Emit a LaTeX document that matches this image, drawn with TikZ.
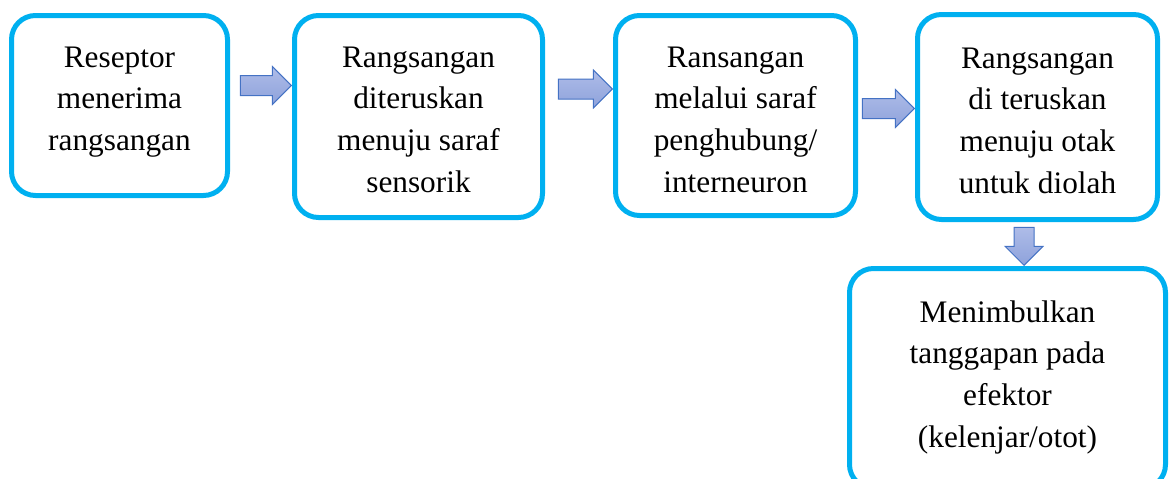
\documentclass[tikz,border=0pt]{standalone}
\usepackage{fontspec}
\setmainfont{Liberation Serif}
\usetikzlibrary{shapes.arrows,calc}
\definecolor{boxblue}{HTML}{00B0F0}
\definecolor{arrowedge}{HTML}{4472C4}
\definecolor{arrowtop}{HTML}{AEBCE8}
\definecolor{arrowbot}{HTML}{8EA2DB}
% fixed height for the first line so every label starts at the same baseline
\newcommand\firstline{\rule{0pt}{24pt}}
\begin{document}
\begin{tikzpicture}[x=1pt,y=-1pt,
  stage/.style={draw=boxblue, line width=5pt, rounded corners=24pt, fill=white, inner sep=0pt},
  stagetext/.style={anchor=north, inner sep=0pt, align=center, font=\rmfamily\fontsize{31.3}{41.7}\selectfont},
  flow/.style={single arrow, draw=arrowedge, line width=1pt, top color=arrowtop, bottom color=arrowbot,
    single arrow head extend=9pt, text height=19pt, text depth=0pt, text width=0pt,
    inner sep=0pt, anchor=tip, single arrow tip angle=90}
]
\useasboundingbox (0,0) rectangle (1171,479);
\clip (0,0) rectangle (1171,479);

% stages
\node[stage, minimum width=216pt, minimum height=180pt] (b1) at (119.5,105.5) {};
\node[stage, minimum width=248pt, minimum height=202pt] (b2) at (418.5,116.5) {};
\node[stage, minimum width=240pt, minimum height=200pt] (b3) at (735.5,115.5) {};
\node[stage, minimum width=240pt, minimum height=205pt] (b4) at (1037.5,117) {};
\node[stage, minimum width=316pt, minimum height=220pt] (b5) at (1007.5,378.5) {};

% labels
\node[stagetext] (t1) at ([yshift=-30pt]b1.north) {\firstline Reseptor\\menerima\\rangsangan};
\node[stagetext] (t2) at ([yshift=-30pt]b2.north) {\firstline Rangsangan\\diteruskan\\menuju saraf\\sensorik};
\node[stagetext] (t3) at ([yshift=-30pt]b3.north) {\firstline Ransangan\\melalui saraf\\penghubung/\\interneuron};
\node[stagetext] (t4) at ([yshift=-32pt]b4.north) {\firstline Rangsangan\\di teruskan\\menuju otak\\untuk diolah};
\node[stagetext] (t5) at ([yshift=-32pt]b5.north) {\firstline Menimbulkan\\tanggapan pada\\efektor\\(kelenjar/otot)};

% block arrows between stages
\node[flow, minimum height=51pt] (a1) at (b2.west |- 0,85.5) {};
\node[flow, minimum height=54pt] (a2) at (b3.west |- 0,89) {};
\node[flow, minimum height=52pt] (a3) at (b4.west |- 0,108.5) {};
\node[flow, minimum height=38pt, rotate=-90] (a4) at (b5.north -| 1024,0) {};
\end{tikzpicture}
\end{document}
